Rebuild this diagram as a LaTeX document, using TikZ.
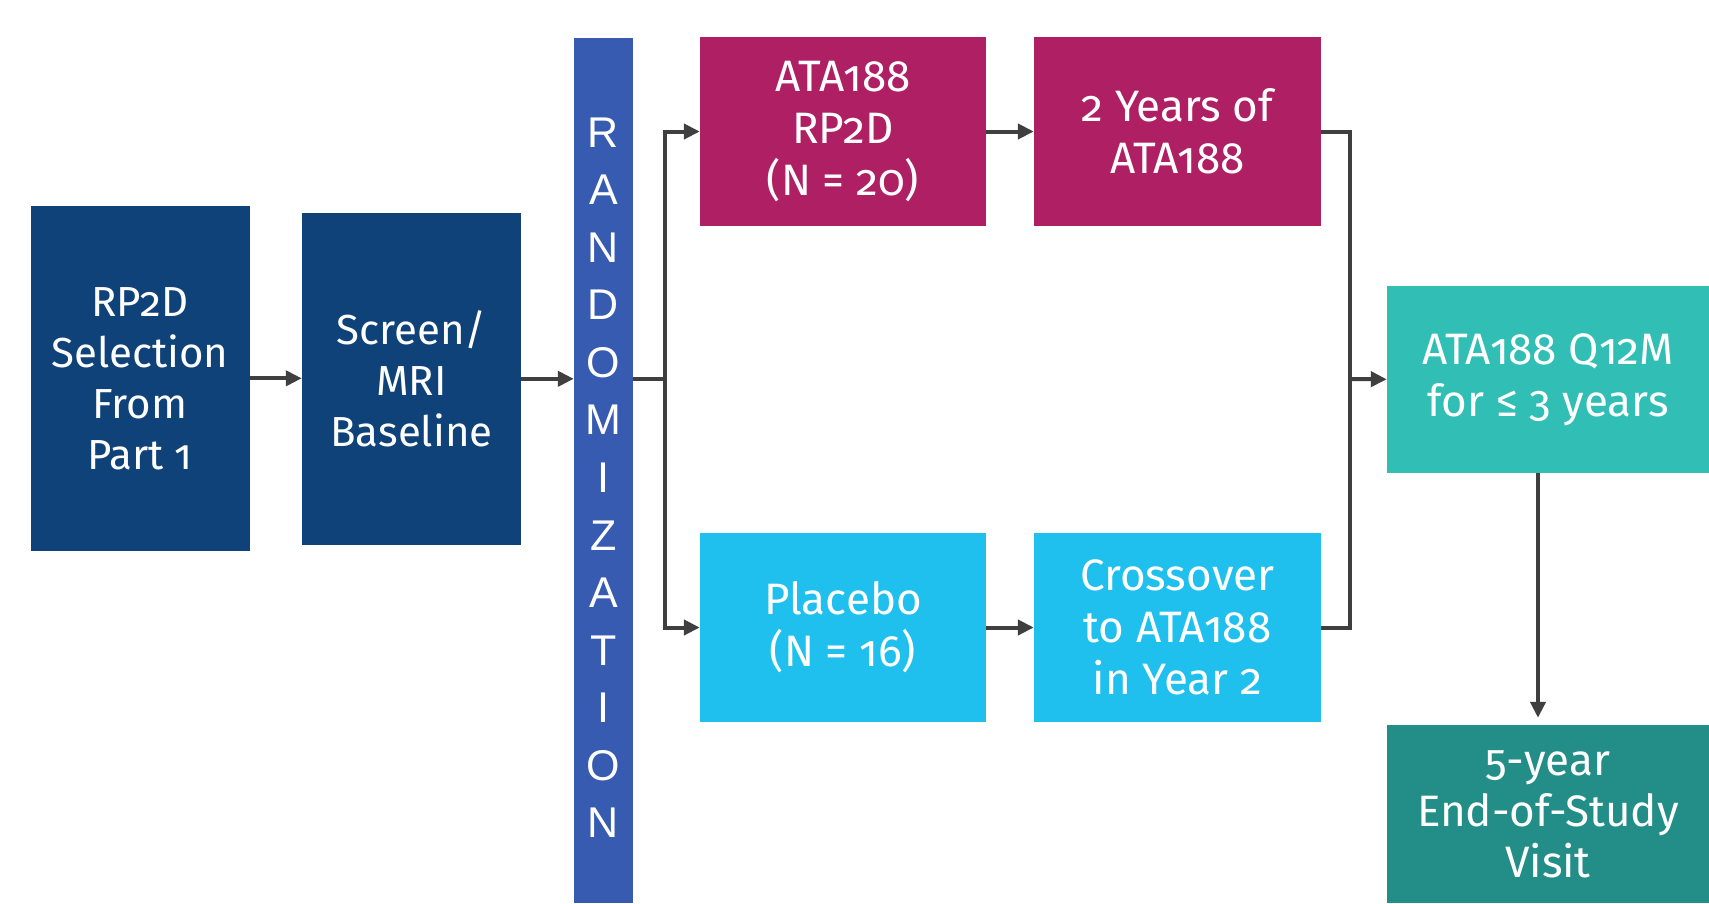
\documentclass[tikz,border=0pt]{standalone}
\usepackage{fontspec}
\setmainfont{Fira Sans}[Numbers=OldStyle]
\newfontfamily\randfont{Liberation Sans}
\usetikzlibrary{arrows.meta}
\definecolor{navy}{HTML}{10427A}
\definecolor{randblue}{HTML}{375BB0}
\definecolor{magenta}{HTML}{AF1F63}
\definecolor{skyblue}{HTML}{20C0EE}
\definecolor{teal}{HTML}{31BFB5}
\definecolor{darkteal}{HTML}{238E87}
\definecolor{linegray}{HTML}{3F3F3F}
\begin{document}
\begin{tikzpicture}[x=1pt,y=-1pt,
  box/.style={rectangle,inner sep=0pt,text=white,align=center,anchor=center,
    font=\fontsize{42}{51}\selectfont},
  randletter/.style={inner sep=0pt,text=white,anchor=base,font=\randfont\fontsize{43}{48}\selectfont},
  arr/.style={draw=linegray,line width=4pt,-{Triangle[length=16pt,width=15pt]}},
  ln/.style={draw=linegray,line width=4pt}]
\useasboundingbox (0,0) rectangle (1709,903);
\fill[white] (0,0) rectangle (1709,903);
\node[box,fill=navy,minimum width=219pt,minimum height=344.5pt] (sel) at (140,378.3) {RP2D\\Selection\\From\\Part 1};
\node[box,fill=navy,minimum width=219pt,minimum height=332.5pt] (scr) at (411.5,378.8) {Screen/\\MRI\\Baseline};
\node[box,fill=randblue,minimum width=59pt,minimum height=865pt] (rand) at (603.5,470.5) {};
\foreach \l [count=\i] in {R,A,N,D,O,M,I,Z,A,T,I,O,N}
  \node[randletter] (r\i) at (603.5,{147+(\i-1)*57.58}) {\l};
\node[box,fill=magenta,minimum width=286pt,minimum height=189pt,font=\fontsize{44}{52}\selectfont] (ata) at (843,131.5) {ATA188\\RP2D\\(N = 20)};
\node[box,fill=magenta,minimum width=287pt,minimum height=189pt,font=\fontsize{44}{52}\selectfont] (two) at (1177.5,131.5) {2 Years of\\ATA188};
\node[box,fill=skyblue,minimum width=286pt,minimum height=189pt,font=\fontsize{44}{52}\selectfont] (plc) at (843,627.5) {Placebo\\(N = 16)};
\node[box,fill=skyblue,minimum width=287pt,minimum height=189pt,font=\fontsize{44}{52}\selectfont] (cross) at (1177.5,627.5) {Crossover\\to ATA188\\in Year 2};
\node[box,fill=teal,minimum width=322pt,minimum height=187.5pt,font=\fontsize{44}{52}\selectfont] (q12) at (1548,379.3) {ATA188 Q12M\\for ≤ 3 years};
\node[box,fill=darkteal,minimum width=322pt,minimum height=178pt,font=\fontsize{44}{51}\selectfont] (fin) at (1548,814) {5-year\\End-of-Study\\Visit};
\coordinate (split) at (664.6,379);
\coordinate (merge) at (1350,379);
\draw[arr] (sel.east) -- (sel.east -| scr.west);
\draw[arr] (scr.east) -- (scr.east -| rand.west);
\draw[ln] (split -| rand.east) -- (split);
\draw[arr] (split) |- (ata.west);
\draw[arr] (split) |- (plc.west);
\draw[arr] (ata.east) -- (two.west);
\draw[arr] (plc.east) -- (cross.west);
\draw[ln] (two.east) -| (merge);
\draw[ln] (cross.east) -| (merge);
\draw[arr] (merge) -- (q12.west);
\draw[arr,shorten >=7pt] ([xshift=-10pt]q12.south) -- ([xshift=-10pt]fin.north);
\end{tikzpicture}
\end{document}
